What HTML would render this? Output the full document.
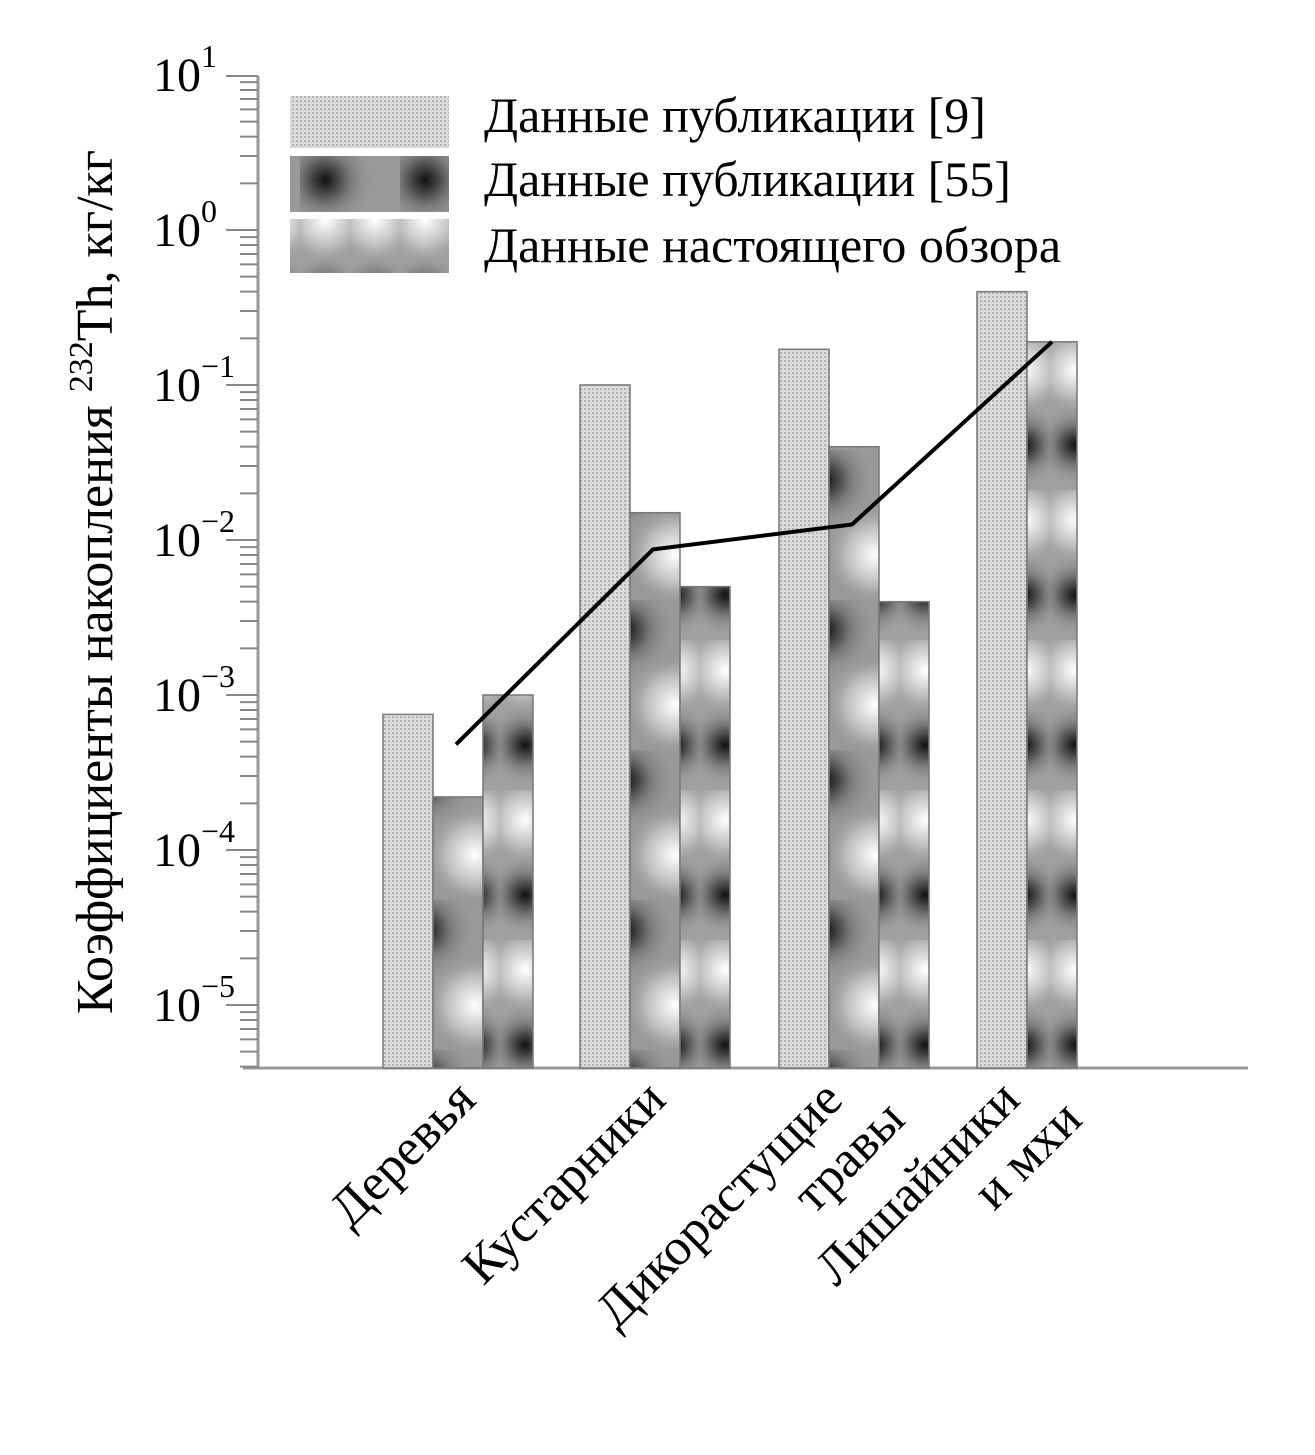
<!DOCTYPE html>
<html><head><meta charset="utf-8"><style>
html,body{margin:0;padding:0;background:#fff;}
svg{display:block;font-family:"Liberation Serif",serif;}
</style></head><body>
<svg id="chart" width="1315" height="1455" viewBox="0 0 1315 1455" xmlns="http://www.w3.org/2000/svg">
<defs>
<pattern id="p1" patternUnits="userSpaceOnUse" width="4" height="4">
<rect width="4" height="4" fill="#dedede"/><rect width="2" height="2" fill="#b0b0b0"/><rect x="2" y="2" width="1" height="1" fill="#c4c4c4"/>
</pattern>
<radialGradient id="g2"><stop offset="0" stop-color="#111"/><stop offset="0.5" stop-color="#777"/><stop offset="1" stop-color="#999" stop-opacity="0"/></radialGradient>
<radialGradient id="g3"><stop offset="0" stop-color="#fff"/><stop offset="0.6" stop-color="#bbb"/><stop offset="1" stop-color="#999" stop-opacity="0"/></radialGradient>
<pattern id="p2" patternUnits="userSpaceOnUse" width="100" height="150" x="0" y="0">
<rect width="100" height="150" fill="#999"/>
<circle cx="25" cy="30" r="50" fill="url(#g2)"/>
<circle cx="75" cy="105" r="50" fill="url(#g3)"/>
</pattern>
<pattern id="p3" patternUnits="userSpaceOnUse" width="50" height="150" x="0" y="40">
<rect width="50" height="150" fill="#a0a0a0"/>
<circle cx="25" cy="30" r="45" fill="url(#g3)"/>
<circle cx="25" cy="105" r="40" fill="url(#g2)"/>
</pattern>
</defs>
<g id="axes"></g>
<g id="bars"></g>
<g id="line"></g>
<g id="legend">
<rect x="290" y="96" width="159" height="52" fill="url(#p1)"/>
<rect x="290" y="156" width="159" height="56" fill="url(#p2)"/>
<rect x="290" y="219" width="159" height="54" fill="url(#p3)"/>
<text x="484" y="132" font-size="50">Данные публикации [9]</text>
<text x="484" y="196" font-size="50">Данные публикации [55]</text>
<text x="484" y="262" font-size="50">Данные настоящего обзора</text>
</g>
<text transform="translate(112,582) rotate(-90)" text-anchor="middle" font-size="52">Коэффициенты накопления <tspan font-size="34" dy="-20">232</tspan><tspan dy="20">Th, кг/кг</tspan></text>
</svg>
<script>
const categories = [["Деревья"],["Кустарники"],["Дикорастущие","травы"],["Лишайники","и мхи"]];
const seriesPub9 = [0.00075, 0.1, 0.17, 0.4];
const seriesPub55 = [0.00022, 0.015, 0.04, null];
const seriesPresent = [0.001, 0.005, 0.004, 0.19];
const lineValues = [0.00048, 0.0087, 0.0126, 0.19];
const yTickExps = [1,0,-1,-2,-3,-4,-5];

const NS="http://www.w3.org/2000/svg";
function mk(tag,attrs,parent){const e=document.createElementNS(NS,tag);for(const k in attrs)e.setAttribute(k,attrs[k]);parent.appendChild(e);return e;}
const y0=230, dec=155, baseY=1068;
function yPos(v){return y0 - Math.log10(v)*dec;}
const groupX=[383,580,779,977], bw=50;

const axes=document.getElementById('axes');
let a=mk('line',{x1:258,y1:76,x2:258,y2:baseY,stroke:'#999','stroke-width':3},axes);


a=mk('line',{x1:243,y1:baseY,x2:1248,y2:baseY,stroke:'#999','stroke-width':3},axes);


for(let e=-6;e<=0;e++){
  for(let m=1;m<10;m++){
    const v=m*Math.pow(10,e);const y=yPos(v);
    if(y<76||y>baseY) continue;
    const t=mk('line',{x1:m===1?226:240,y1:y,x2:258,y2:y,stroke:'#888','stroke-width':2},axes);
    
    
  }
}
mk('line',{x1:226,y1:76,x2:258,y2:76,stroke:'#888','stroke-width':2},axes);
yTickExps.forEach(ex=>{
  const y=yPos(Math.pow(10,ex));
  const t=mk('text',{x:153,y:y+16,'font-size':48},axes);
  
  
  t.textContent='10';
  const s=mk('tspan',{'font-size':32,dy:-24},t);
  s.textContent=(ex<0?'\u2212'+(-ex):String(ex));
});
categories.forEach((c,i)=>{
  const ax=[478,668,845,1022][i], ay=1102;
  const t=mk('text',{transform:`translate(${ax},${ay}) rotate(-45)`,'text-anchor':'end','font-size':52},axes);
  
  
  c.forEach((line,j)=>{const s=mk('tspan',{x:j*30,dy:j?58:0},t);s.textContent=line;});
});

const bars=document.getElementById('bars');
categories.forEach((c,i)=>{
  const vals=[[seriesPub9[i],'url(#p1)','bar-pub9'],[seriesPub55[i],'url(#p2)','bar-pub55'],[seriesPresent[i],'url(#p3)','bar-present']].filter(d=>d[0]!=null);
  vals.forEach((d,j)=>{
    const x=groupX[i]+j*bw, y=yPos(d[0]);
    const r=mk('rect',{x:x,y:y,width:bw,height:baseY-y,fill:d[1],stroke:'#777','stroke-width':1.5},bars);
    
    
  });
});

const lg=document.getElementById('line');
const lineX=[456,653,852,1052];
const pts=lineValues.map((v,i)=>lineX[i]+','+yPos(v)).join(' ');
const pl=mk('polyline',{points:pts,fill:'none',stroke:'#000','stroke-width':4},lg);


</script>
</body></html>
